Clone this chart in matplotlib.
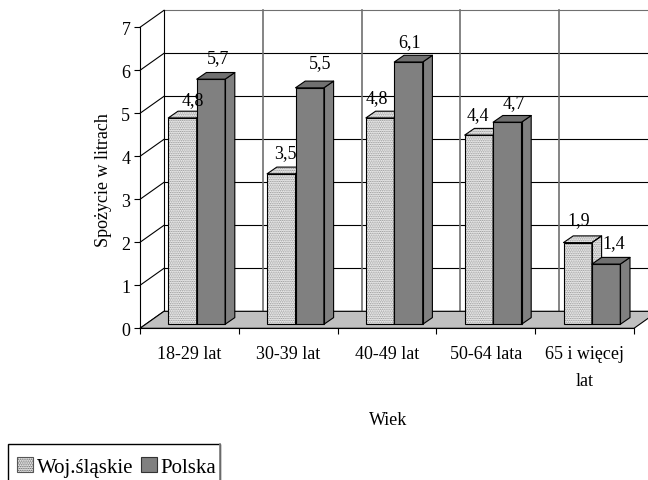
import matplotlib
matplotlib.use('Agg')
import matplotlib.pyplot as plt
from matplotlib.patches import Polygon, Patch, Rectangle
from matplotlib.lines import Line2D

plt.rcParams['font.family'] = ['Liberation Serif', 'DejaVu Serif']
plt.rcParams['hatch.linewidth'] = 0.7

# Data
age_groups = ['18-29 lat', '30-39 lat', '40-49 lat', '50-64 lata', '65 i więcej\nlat']
slaskie = [4.8, 3.5, 4.8, 4.4, 1.9]
polska = [5.7, 5.5, 6.1, 4.7, 1.4]
y_ticks = [0, 1, 2, 3, 4, 5, 6, 7]

# Hand-placed value labels, pixels from the middle of each bar top
slaskie_nudge = [(10.5, 18), (3.7, 21), (-3, 20), (-1, 21), (1.3, 22.6)]
polska_nudge = [(7, 22), (10, 25), (1.5, 20), (7, 20), (8, 22)]

# Colours
dark = '#808080'
dark_top = '#707070'
floor_grey = '#c0c0c0'
dot_bg = '#f2f2f2'
dot_grey = '#8c8c8c'
wall_grey = '#707070'

W, H, DPI = 648, 481, 100
X0, X1, Y0, Y7 = 140.0, 634.0, 329.3, 28.3  # axis box in pixels
ux = (X1 - X0) / 5
uy = (Y0 - Y7) / 7

# oblique depth, in data units
wall_dx, wall_dy = 24 / ux, 17 / uy
front_dx, front_dy = 5.7 / ux, 4 / uy
bar_dx, bar_dy = 9.7 / ux, 6.7 / uy
bar_w = 28.4 / ux
bar_start = 22.6 / ux
thin = 0.8
DOTS = '.........'

fig = plt.figure(figsize=(W / DPI, H / DPI), dpi=DPI, facecolor='white')
ax = fig.add_axes([X0 / W, 1 - Y0 / H, (X1 - X0) / W, (Y0 - Y7) / H])
ax.set_xlim(0, 5)
ax.set_ylim(0, 7)
ax.patch.set_visible(False)
for s in ['top', 'right']:
    ax.spines[s].set_visible(False)
for s in ['left', 'bottom']:
    ax.spines[s].set_linewidth(thin)
    ax.spines[s].set_zorder(50)


def poly(pts, z, **kw):
    kw.setdefault('linewidth', thin)
    kw.setdefault('edgecolor', 'black')
    ax.add_patch(Polygon(pts, closed=True, clip_on=False, zorder=z, joinstyle='round', **kw))


# back and side walls
for v in y_ticks:
    ax.plot([wall_dx, 5 + wall_dx], [v + wall_dy] * 2, color='black' if v < 7 else wall_grey,
            lw=thin, clip_on=False, zorder=1)
    ax.plot([0, wall_dx], [v, v + wall_dy], color='black', lw=thin, clip_on=False, zorder=1)
for c in range(6):
    ax.plot([c + wall_dx] * 2, [wall_dy, 7 + wall_dy], color='black' if c == 0 else wall_grey,
            lw=1.2 if c else thin, clip_on=False, zorder=1)

# floor
poly([(0, 0), (5, 0), (5 + wall_dx, wall_dy), (wall_dx, wall_dy)], 2, facecolor=floor_grey)


def draw_bar(left, value, z, textured):
    right = left + bar_w
    base = front_dy
    if textured:
        ax.bar(left, value, bar_w, bottom=base, align='edge', color=dot_bg, edgecolor=dot_grey,
               hatch=DOTS, linewidth=0, zorder=z, clip_on=False)
    else:
        ax.bar(left, value, bar_w, bottom=base, align='edge', color=dark, linewidth=0,
               zorder=z, clip_on=False)
    ax.bar(left, value, bar_w, bottom=base, align='edge', fill=False, edgecolor='black',
           linewidth=thin, zorder=z + 0.2, clip_on=False)
    side = [(right, base), (right + bar_dx, base + bar_dy),
            (right + bar_dx, base + value + bar_dy), (right, base + value)]
    top = [(left, base + value), (right, base + value),
           (right + bar_dx, base + value + bar_dy), (left + bar_dx, base + value + bar_dy)]
    if textured:
        for pts in (side, top):
            poly(pts, z, facecolor=dot_bg, edgecolor=dot_grey, hatch=DOTS, linewidth=0)
            poly(pts, z + 0.2, facecolor='none')
    else:
        poly(side, z, facecolor=dark)
        poly(top, z, facecolor=dark_top)


def value_label(x, value, nudge):
    ax.text(x + nudge[0] / ux, value + front_dy + nudge[1] / uy, f'{value:.1f}'.replace('.', ','),
            ha='center', va='center', fontsize=13, zorder=60, clip_on=False)


z = 3
for c, (a, b) in enumerate(zip(slaskie, polska)):
    left = c + front_dx + bar_start
    draw_bar(left, a, z, True)
    draw_bar(left + bar_w, b, z + 1, False)
    z += 2

for c, (a, b) in enumerate(zip(slaskie, polska)):
    left = c + front_dx + bar_start
    value_label(left + bar_w * 0.5, a, slaskie_nudge[c])
    value_label(left + bar_w * 1.5, b, polska_nudge[c])

# axes ticks and labels
ax.set_yticks(y_ticks)
ax.tick_params(axis='y', length=4, width=thin, pad=3, labelsize=13)
ax.set_xticks(range(6))
ax.set_xticklabels([])
ax.tick_params(axis='x', which='major', length=4, width=thin)
ax.set_xticks([c + 0.5 for c in range(5)], minor=True)
ax.set_xticklabels(age_groups, minor=True, fontsize=13, linespacing=1.75, va='top')
ax.tick_params(axis='x', which='minor', length=0, pad=12)

fig.text(103 / W, 1 - 180 / H, 'Spożycie w litrach', rotation=90, ha='center', va='center', fontsize=13)
fig.text(388 / W, 1 - 421 / H, 'Wiek', ha='center', va='center', fontsize=13)

# legend box runs off the bottom edge, its right side is grey
fig.add_artist(Rectangle((8 / W, -0.02), 212 / W, 1 - 445 / H + 0.02, transform=fig.transFigure,
                         facecolor='white', edgecolor='black', linewidth=1.0))
fig.add_artist(Line2D([220 / W, 220 / W], [0, 1 - 445 / H], transform=fig.transFigure,
                      color=dark, lw=1.2))
handles = [Patch(facecolor=dot_bg, edgecolor='#555555', hatch=DOTS, linewidth=thin, label='Woj.śląskie'),
           Patch(facecolor=dark, edgecolor='#333333', linewidth=thin, label='Polska')]
leg = fig.legend(handles=handles, loc='upper left', bbox_to_anchor=(8 / W, 1 - 449 / H), ncol=2,
                 fontsize=15, frameon=False, borderpad=0.45, borderaxespad=0,
                 handlelength=0.75, handleheight=0.72, handletextpad=0.2, columnspacing=0.35)

fig.savefig('out.png', dpi=DPI)
